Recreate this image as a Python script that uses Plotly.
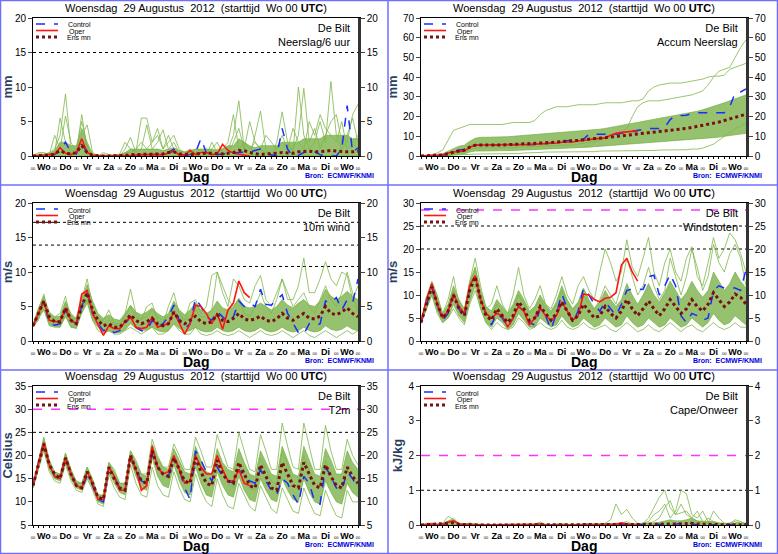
import plotly.graph_objects as go

days = ["Wo", "Do", "Vr", "Za", "Zo", "Ma", "Di", "Wo", "Do", "Vr", "Za", "Zo", "Ma", "Di", "Wo"]
title_txt = "Woensdag  29 Augustus  2012  (starttijd  Wo 00 <b>UTC</b>)"
t = [i / 4 for i in range(61)]

# ---------------- Neerslag/6 uur ----------------
p_mean = [0,0.1,0.1,0.1, 0.3,0.8,0.4,0.3, 0.5,1.5,0.5,0.1, 0,0,0,0, 0,0.1,0.2,0.2, 0.3,0.3,0.3,0.3, 0.3,0.5,0.6,0.3, 0.2,0.2,0.3,0.4, 0.4,0.4,0.3,0.3, 0.4,0.5,0.8,0.8, 0.5,0.3,0.2,0.3, 0.3,0.4,0.5,0.4, 0.4,0.6,0.7,0.7, 0.6,0.6,0.7,0.8, 0.7,0.7,0.6,0.6, 0.7]
p_ctrl = [0,0,0.1,0.1, 0.2,0.8,2.0,0.5, 0.3,2.0,0.3,0, 0,0,0,0, 0,0,0,0.1, 0.1,0.2,0.2,0.2, 0.2,0.5,1.0,0.3, 0.1,0.2,0.5,2.5, 0.5,0.3,0.2,0.3, 0.3,0.4,0.5,0.5, 0.6,0.8,1.0,0.3, 0.1,0.0,4.0,1.0, 0,0.1,0.5,0.8, 0.6,0.2,0,0, 0,1.0,7.3,0.5, 1.2]
p_oper = [0,0,0.1,0.2, 0.3,1.2,0.4,0.2, 0.5,2.5,0.5,0.1, 0,0,0,0, 0,0.1,0.1,0.1, 0.2,0.2,0.2,0.2, 0.2,0.4,0.7,0.2, 0.1,0.8,0.2,0.5, 0.5,0.2,0.3,1.7, 0.8,0.4,0.3,0.1, 0]
p_lo = [0] * 61
p_hi = [0,0.3,0.3,0.4, 0.8,2.0,2.0,1.5, 1.5,4.0,2.0,0.3, 0.1,0.1,0.1,0.1, 0.2,0.5,1.0,1.0, 1.0,1.0,1.0,1.0, 0.8,1.0,1.2,0.8, 0.6,0.8,1.0,1.0, 1.0,1.0,0.8,1.0, 1.5,1.5,2.5,2.0, 1.5,1.2,1.5,1.5, 1.5,1.5,2.0,2.0, 2.0,2.0,2.5,2.5, 2.5,2.5,3.0,3.0, 3.0,3.0,3.0,2.5, 2.5]
p_m1 = [0,0,0.2,0.5, 1,3,9,1, 0.5,6,1,0, 0,0,0,0, 0,1,2.7,0.5, 5.5,5.5,2,4, 1,3,1,0, 0,0.5,0.2,0, 0,2,0.5,0, 1,3,8,1, 0,3,6.5,1, 0,2,6.4,2, 0.5,10,3,1, 2,5,2,10.8, 3,1,2,6, 7.5]
p_m2 = [0,0,0.1,0.3, 0.5,5.5,2,0.5, 1,5,1.5,0, 0,0,0,0, 0.3,2,1,0.5, 1,4.5,1,2, 3.8,1,2,0.5, 0,0.5,0.5,1, 0.2,1,2,0.5, 0.3,2,4,1, 5,2,1,0.5, 0,1,3,1, 1,3,9.8,2, 4,1,3,5, 6,2,3,5.5, 2]
p_m3 = [0,0.5,0.5,0.2, 3,1,5.8,2, 0.5,3,4.5,0.5, 0,0.5,0.2,0, 0,0.5,0.5,1, 2,1,2,3, 1,2,3,1, 0.5,1,0.5,0.5, 1,0.5,1,1, 2,6,1,2, 1,2,1,3, 2,1,2,1, 4,2,1,5, 3,6,4,3, 2,5,1,2, 3]

# ---------------- Accum Neerslag ----------------
a_mean = [0,0.1,0.2,0.3, 0.5,1.2,2,2.5, 3,4.5,5.5,5.6, 5.6,5.6,5.6,5.6, 5.7,5.8,5.9,6.0, 6.1,6.3,6.5,6.7, 6.9,7.2,7.5,7.6, 7.8,8.0,8.2,8.5, 8.8,9.0,9.3,9.6, 9.9,10.2,10.5,10.8, 11.0,11.3,11.7,12.0, 12.3,12.6,12.9,13.2, 13.5,14,14.5,15, 15.5,16,16.5,17.2, 18,18.8,19.6,20.4, 21.2]
a_ctrl = [0,0,0,0.1, 0.3,1.0,2.5,3, 3.3,5,5.5,5.5, 5.5,5.5,5.5,5.5, 5.5,5.5,5.5,5.6, 5.7,5.8,6,6.2, 6.4,6.8,7.5,7.8, 7.9,8.1,8.5,11, 11,11,11,11, 11,11.5,12,12.5, 13,13.7,14,14, 14,14.5,18.5,20.5, 20.5,20.7,21.5,22, 22,22,22,22, 22,25,32,32.5, 34]
a_oper = [0,0,0.1,0.3, 0.6,1.5,2,2.3, 2.5,4.5,5.5,5.6, 5.6,5.6,5.6,5.6, 5.6,5.6,5.7,5.8, 5.9,6.0,6.1,6.2, 6.3,6.6,7.0,7.1, 7.1,7.6,7.8,8.2, 8.7,8.9,9.2,10.5, 11.5,12,12.3,12.5, 12.5]
a_lo = [0,0,0,0, 0.1,0.3,0.5,0.8, 1,2,2.5,2.5, 2.5,2.5,2.6,2.6, 2.7,2.8,2.9,3, 3.1,3.2,3.3,3.4, 3.5,3.6,3.8,3.9, 4,4.1,4.3,4.5, 4.7,4.9,5,5.2, 5.4,5.6,5.8,6, 6.2,6.4,6.6,6.8, 7,7.2,7.4,7.6, 7.8,8,8.2,8.5, 8.8,9,9.3,9.6, 10,10.3,10.6,11, 11.5]
a_hi = [0,0.2,0.5,0.8, 1.2,2.5,4,5, 5.5,7.5,9,9.5, 9.5,9.5,9.6,9.7, 9.8,10,10.2,10.4, 10.6,10.8,11,11.2, 11.4,11.7,12,12.2, 12.4,12.6,12.8,13, 13.3,13.6,14,14.5, 15,15.5,16,16.5, 17,17.5,18,18.5, 19,19.5,20,20.5, 21,21.5,22,22.7, 23.4,24.2,25,26, 27,28,29,30, 31]
a_m1 = [0,0.3,0.8,1.5, 3,8,13,14, 15,16,16,16, 16,16,16,16, 16.5,17,17,17, 17,18,21,23, 24,25,25,25, 25.5,26,26,26, 26,26.5,27,27, 27,27,27.5,28, 28,29,33,35, 36,36.5,37,37, 37,37.5,38,38.5, 39,40,40.5,40.5, 41,44,45,46, 47]
a_m2 = [0,0,0,0.1, 0.3,0.5,1,1.5, 2,3,4,4, 4,4,4,4, 4,4.2,4.5,4.5, 4.5,4.8,5,5, 5,5.2,5.5,5.5, 5.5,6,6.5,7, 7,8,9,10, 11,12,14,20, 25,27,28,28, 28,28.5,29,29.5, 30,30.5,31,32, 33,36,40,43, 44,45,50,55, 59]
a_m3 = [0,0,0,0, 0,0.2,0.5,0.5, 0.5,0.8,1,1, 1,1,1,1, 1,1,1.2,1.5, 1.5,1.5,1.8,2, 2,2,2,2, 2,2,2,2.2, 2.2,2.5,2.5,2.5, 2.5,2.5,2.5,2.5, 2.5,2.5,2.6,2.8, 3,3,3,3, 3,3.2,3.5,3.5, 4,5,6,8, 10,12,14,15, 17]

# ---------------- 10m wind ----------------
w_mean = [2.2,4.0,5.8,3.5, 2.8,2.8,4.8,3.0, 2.5,5.0,7.0,4.5, 3.0,2.2,2.5,2.0, 2.0,2.8,3.8,3.0, 2.5,2.8,3.3,2.5, 2.2,2.5,4.2,3.0, 2.5,3.0,3.6,2.8, 2.5,2.8,3.8,3.0, 2.8,3.3,4.0,3.2, 3.0,3.2,3.6,3.0, 2.8,3.2,4.0,3.3, 3.0,3.5,4.0,3.3, 3.2,3.6,5.0,4.0, 3.8,4.2,4.8,4.0, 3.5]
w_ctrl = [2.2,4,5.8,2.5, 2.3,2.5,4.5,3, 2.5,5,7,4, 2.5,1.5,1.8,1.2, 1.5,2.5,3.5,2.0, 1.5,1.5,3,2, 2.5,3.5,5.2,3, 1.8,2.5,6.2,5, 3.5,3,4.3,3.5, 2.8,3.5,5.8,5, 5.5,5,7.5,5.3, 5.2,6,6.7,4, 2.5,1.2,1,2.5, 2.2,2.5,5.8,5.5, 6.3,4.5,6,5.5, 9]
w_oper = [2.2,4,5.8,3, 2.8,2.8,4.8,3, 2.5,6.8,7.3,4, 2.5,0.8,2.2,1.8, 1.8,2.8,3.5,2, 1.8,2,3.5,2, 2.3,2.5,4.2,2.5, 1.0,2.5,5.2,5, 4,2.5,4,1.7, 4.5,5.5,8.7,7, 6.3]
w_lo = [2,3.2,4.5,2.2, 2,2,3.5,2, 1.8,4,5.5,3, 2,1.2,1.5,1.2, 1.2,1.6,2.5,1.8, 1.5,1.6,2,1.5, 1.3,1.5,2.5,1.8, 1.3,1.5,2,1.5, 1.3,1.4,2,1.5, 1.3,1.5,2,1.5, 1.3,1.5,2,1.5, 1.3,1.5,2,1.5, 1.3,1.5,2,1.5, 1.3,1.5,2.2,1.7, 1.5,1.7,2.2,1.7, 1.5]
w_hi = [2.4,4.8,6.5,4.2, 3.5,3.6,5.8,4, 3.2,6,8.2,5.8, 4,3.3,3.8,3.2, 3,4,5.2,4.2, 3.8,4.2,4.8,4, 3.5,4,5.8,4.5, 3.8,4.5,5.5,4.5, 4,4.5,5.8,4.8, 4.5,5,6.2,5, 4.8,5,5.5,5, 4.5,5,6,5.2, 4.8,5.5,6,5.2, 5,5.8,7.5,6.5, 6,6.5,7.2,6.5, 6]
w_m1 = [2.3,4.5,6.8,3, 3.5,4,6.5,3, 3.5,6,9,5, 3,3,4.5,2.5, 2,4,7.5,4, 3,5,5.5,3, 2.5,5,7,4, 3,5.5,6,4, 5,9.5,10,7, 5,9,8,6, 5.5,8,9.5,6, 5,7,9,6, 6,8,12,7, 7,9,11.5,9, 8,10,9.5,6, 8]
w_m2 = [2,3,5.5,2.5, 2.5,2,4,2, 2,4.5,6,3, 1.5,1,1.5,1, 1,1.5,2,1.5, 1,1.5,2,1, 1,1.5,2.5,1.5, 1,1,2,1, 0.8,1,1.5,1, 0.8,1,1.5,1, 0.5,1,1.5,1, 0.8,1,1.5,1, 0.5,1,1.5,0.8, 0.5,1,1.5,1, 0.5,1,1.5,1, 1.5]
w_m3 = [2.2,4.2,6,3.8, 3,3,5.5,3.5, 2.8,5.5,7.5,4.5, 3.5,2.5,3,2.5, 2.5,3.5,5,3.5, 3.2,3.5,4.5,3.5, 3,3.5,4.5,3.5, 3,3.5,4.5,3.5, 3.5,4.5,10,8, 6,5,6,4, 3.5,5,7,5, 4,6,9,7, 5,6,7,5, 4,6,8,6, 5,7,10,7, 4]

# ---------------- Windstoten ----------------
g_mean = [4,8,11.8,8, 5,6.5,10,7, 5.5,11,14,9, 5.5,4.5,7,5.5, 4,5.5,8.5,7, 4.5,5,7.5,6, 4.5,6,8.5,6.5, 4.5,5.5,8,6.5, 5,5.5,7.5,6, 5,6.5,9,7, 5.5,7,8.7,7, 5.5,7,9,7.5, 6,7,9,7.5, 6.5,8,10.5,9, 7.5,8.5,10.2,9.5, 8]
g_ctrl = [4,8,11.5,8, 4.5,6,10,7, 5,11.5,14,9, 6,3.5,6,5, 3,5,7.5,6.5, 4,3.5,7,5.5, 2.5,6,10.3,7, 4,6.5,11.5,10, 8,6.5,8.5,7, 5.5,8,11,11.3, 11.2,11.2,14,14.3, 10,12,14.5,12, 5.5,4,6,5.5, 4.5,5,11,12, 11.5,11.5,11.5,11, 15.5]
g_oper = [4,9,12.5,8, 5,6.5,10.3,7.5, 6,12,14.2,9, 6,5,6,5.5, 3,5,7.5,6.5, 3.5,5,7.2,5.5, 4.5,5.5,8.5,6.5, 4.5,5.5,10.2,10, 9,8.5,9.3,9.5, 10.5,16.5,18,15, 13]
g_lo = [3.8,7,10,6.5, 4,5,8,5.5, 4,8.5,12,7, 4,3,5,4, 2.5,3.5,6,4.5, 3,3,5,4, 3,3.5,5.5,4, 3,3.5,5,4, 3,3.5,5,4, 3,3.5,5.5,4, 3,3.5,5,4, 3,3.5,5,4, 3,3.5,5,4, 3,4,6,4.5, 3.5,4,5.5,4.5, 3.5]
g_hi = [4.2,9.5,13,10, 6,8,12,9, 7,13,16,11, 7.5,6.5,9,7.5, 6,8,11,9, 6.5,7.5,10,8, 6.5,8.5,12,9, 7,8.5,11.5,9, 7,8.5,11,9, 7.5,9,12.5,10, 8,10,12.5,10, 8.5,10.5,13,11, 9,10.5,13,11, 9.5,11,15,13, 11,12.5,15,13, 11.5]
g_m1 = [4,9.5,12,9, 6,9,14,8, 6,13,18,12, 7,8,12,8, 6,10,16,10, 7,9,12,8, 7,10,14,10, 8,12,14,11, 9,15,20,17, 13,15,22,16, 14,18,22.5,15, 12,17,20,15, 13,18,20.5,14, 12,17,22.5,18, 20,23.5,22,19, 15]
g_m2 = [4,7,10,6, 4,5,7,5, 3.5,8,11,7, 4,2.5,4,3, 2.5,3,5,4, 2.5,3,4,3, 2.5,3,4.5,3, 2.5,3,4,3, 2.5,3,3.5,2.5, 2,3,4,3, 2,2.5,3.5,2.5, 2,3,4,3, 2,3,3.5,2.5, 2,3,4,3, 2.5,3,4,3, 3]
g_m3 = [4,8.5,12,8, 5,7,11,7, 5,12,16,10, 6,5,8,6, 5,7,10,8, 6,7,9,7, 6,8,11,8, 7,8,10,8, 7,9,12,10, 8,12,18,14, 10,12,16,12, 9,11,18,14, 10,14,20,16, 11,14,21,17, 15,19,21,18, 12]

# ---------------- T2m ----------------
T_mean = [13.5,18,22.5,18, 16,15,19.5,16, 13.5,13,16.5,14, 11,10.5,17.5,15, 13,12.5,20,17, 14.5,14,21,17.5, 16,15.5,19.5,17, 14.5,14,19.5,16.5, 14,13.5,19,16, 14.5,14,18.5,16, 13.5,13,18,15.5, 13,12.5,18.5,16, 13.5,13,18.5,16, 13.5,13,18,15.5, 13.5,13,17.5,15.5, 14]
T_ctrl = [13.5,18.5,22.5,18, 15.5,15,19.5,16, 13.5,13,15.5,13.5, 10.5,10,17.5,15.5, 13,12.5,20,17, 14.5,14,20.5,17.5, 16,15.5,19.5,17, 13,10.5,21,19, 16.5,14.5,17.5,15.5, 14.5,14,17,15.5, 14.5,14,17,14.5, 12.5,11.5,15,14, 11.5,9.5,15.5,14, 10,9.5,17.5,15.5, 13,12.5,16.5,15, 13]
T_oper = [13.5,18.5,22.8,18, 15.5,15,19.5,16, 13.5,13,16.5,14, 10.5,10.5,17.5,15.5, 12.5,12.5,20,17, 12.5,13.5,22,17.5, 16,16.5,20,17, 14,14.5,20,17.5, 16,16,20,17, 14.5,14.5,17,14, 13.5]
T_lo = [13,17.5,21.5,17, 15,14.5,18.5,15, 13,12.5,15.5,13, 10,9.5,16.5,14, 12,11.5,19,15.5, 13,12.5,19.5,15.5, 13.5,13,18,14.5, 12,11.5,17.5,14, 11.5,11,16.5,13.5, 11.5,11,15.5,12.5, 10.5,10,15,12.5, 10.5,10,15,12.5, 10.5,10,15,12, 10,9.5,14.5,12, 10,9.5,14,12, 11]
T_hi = [14,19,23.5,19, 16.5,16,20.5,17, 14.5,14,17.5,15, 11.5,11.5,18.5,16.5, 14,14,21,18.5, 16,15.5,22.5,19.5, 17.5,17,21.5,19, 16.5,16,22,19, 16.5,16,21.5,18.5, 17,16.5,21.5,18.5, 16,15.5,21,18.5, 16,15.5,22,19, 16,15.5,22,19, 16,15.5,21.5,19, 16,16,21,18.5, 17]
T_m1 = [13.5,19,24,19, 16,15.5,20.5,17, 14,14,17.5,14.5, 11,11.5,18.5,17, 14,14,21,19, 16,16,23.5,20, 17.5,17.5,22.5,20, 17,17,24,21, 17.5,17.5,24.5,21, 17.5,17,25,21, 17,16.5,24.5,21, 17,17,27,22, 17.5,17,27,22, 17,17,26.5,21, 17,17,23.5,20, 18]
T_m2 = [13,17,21,16.5, 14.5,14,18,14.5, 12.5,12,15,12.5, 9.5,9,16,13, 11,10.5,18,14, 11.5,11,17.5,13.5, 11.5,11,16.5,13, 10.5,10,16,12.5, 10,9,15,11.5, 9,8.5,14,11.5, 9,8,13.5,11, 8.5,7.5,13,10.5, 8,7.5,13,10, 7.5,7,12.5,9.5, 7,6.5,12.5,10, 10]
T_m3 = [13.5,18,22.5,18, 15,15,19.5,16.5, 13.5,13,16.5,14, 10.5,10.5,17.5,15.5, 13,12.5,19.5,16.5, 14.5,14,21,17.5, 15.5,15,20,17.5, 14.5,14,20.5,17.5, 14,13.5,20,17, 14,13,18.5,16, 13,12.5,19.5,17, 14.5,13.5,21,18, 14,13,20,16.5, 14,13.5,19,16, 13,12.5,17,15, 13.5]

# ---------------- Cape/Onweer ----------------
c_mean = [0,0.01,0.02,0.01, 0.02,0.04,0.06,0.02, 0.01,0.01,0.01,0, 0,0,0,0, 0,0,0,0, 0,0.01,0.01,0, 0,0,0.01,0, 0,0,0.01,0, 0,0,0.01,0.01, 0.01,0.02,0.02,0.01, 0.01,0.01,0.01,0.01, 0.02,0.03,0.04,0.03, 0.03,0.04,0.05,0.03, 0.02,0.02,0.02,0.01, 0.01,0.01,0.01,0.01, 0.01]
c_ctrl = [0,0,0.01,0, 0.01,0.02,0.03,0.01, 0,0,0,0, 0,0,0,0, 0,0,0,0, 0,0,0,0, 0,0.01,0.02,0, 0,0,0,0, 0,0,0,0, 0,0,0,0, 0.01,0.01,0,0, 0,0.02,0.03,0.02, 0.05,0.1,0.03,0.01, 0,0,0,0, 0,0,0.01,0.01, 0.02]
c_oper = [0,0.01,0.03,0.01, 0.02,0.08,0.12,0.03, 0.01,0.01,0,0, 0,0,0,0, 0,0,0,0, 0,0.02,0.03,0, 0,0,0.01,0, 0,0,0,0, 0,0,0,0, 0.02,0.06,0.03,0, 0]
c_lo = [0] * 61
c_hi = [0,0.03,0.05,0.03, 0.05,0.12,0.15,0.05, 0.03,0.04,0.03,0.01, 0.01,0.01,0.01,0.01, 0.01,0.01,0.02,0.02, 0.02,0.03,0.05,0.02, 0.02,0.03,0.04,0.02, 0.02,0.03,0.04,0.03, 0.03,0.03,0.04,0.04, 0.05,0.06,0.05,0.04, 0.04,0.05,0.06,0.06, 0.08,0.12,0.15,0.12, 0.12,0.15,0.2,0.12, 0.1,0.1,0.1,0.06, 0.05,0.05,0.06,0.05, 0.05]
c_m1 = [0,0.05,0.05,0.02, 0.05,0.25,0.15,0.05, 0.02,0.06,0.02,0, 0,0,0,0, 0,0,0,0, 0,0.03,0.08,0.02, 0,0,0.02,0, 0,0,0.02,0, 0,0,0.05,0.15, 0.6,0.3,0.45,0.2, 0.05,0.02,0.05,0.1, 0.2,0.5,0.7,0.3, 0.35,0.4,0.2,0.1, 0.05,0.2,0.1,0.05, 0,0.05,0.1,0.05, 0.05]
c_m2 = [0,0,0.02,0, 0.02,0.1,0.2,0.03, 0,0,0,0, 0,0,0,0, 0,0,0,0, 0,0,0.02,0, 0,0,0,0, 0,0,0,0, 0,0,0,0, 0,0.05,0.1,0.02, 0,0.05,0.2,0.5, 0.8,1.0,0.5,0.3, 0.6,0.3,0.2,0.4, 0.1,0.05,0.4,0.2, 0.05,0,0.05,0.1, 0.02]
c_m3 = [0,0,0,0, 0,0.05,0.1,0.02, 0,0,0,0, 0,0,0,0, 0,0,0,0, 0,0,0,0, 0,0,0,0, 0,0,0,0, 0,0,0,0, 0,0.02,0.02,0, 0,0.05,0.1,0.3, 0.4,0.6,0.2,0.4, 1.0,0.9,0.3,0.2, 0.4,0.1,0.05,0.05, 0.02,0.05,0.15,0.1, 0.02]

panels = [
    dict(name="Neerslag/6 uur", ylab="mm", rng=(0, 20), dt=5, mean=p_mean, ctrl=p_ctrl, oper=p_oper, lo=p_lo, hi=p_hi, mem=[p_m1, p_m2, p_m3], dots=[15], mag=[]),
    dict(name="Accum Neerslag", ylab="mm", rng=(0, 70), dt=10, mean=a_mean, ctrl=a_ctrl, oper=a_oper, lo=a_lo, hi=a_hi, mem=[a_m1, a_m2, a_m3], dots=[], mag=[]),
    dict(name="10m wind", ylab="m/s", rng=(0, 20), dt=5, mean=w_mean, ctrl=w_ctrl, oper=w_oper, lo=w_lo, hi=w_hi, mem=[w_m1, w_m2, w_m3], dots=[10.8, 13.9, 17.2], mag=[]),
    dict(name="Windstoten", ylab="m/s", rng=(0, 30), dt=5, mean=g_mean, ctrl=g_ctrl, oper=g_oper, lo=g_lo, hi=g_hi, mem=[g_m1, g_m2, g_m3], dots=[20, 25], mag=[28.5]),
    dict(name="T2m", ylab="Celsius", rng=(5, 35), dt=5, mean=T_mean, ctrl=T_ctrl, oper=T_oper, lo=T_lo, hi=T_hi, mem=[T_m1, T_m2, T_m3], dots=[25], mag=[30]),
    dict(name="Cape/Onweer", ylab="kJ/kg", rng=(0, 4), dt=1, mean=c_mean, ctrl=c_ctrl, oper=c_oper, lo=c_lo, hi=c_hi, mem=[c_m1, c_m2, c_m3], dots=[1], mag=[2]),
]

W, H = 778, 554
cols = [(33, 358), (421, 746)]
rows = [(18, 156), (203, 341), (386, 525)]
GREEN = "#6aa832"
fig = go.Figure()
shapes, annos = [], []
layout = {}
FONT = "Liberation Sans, Arial"

tickvals = list(range(16)) + [d + 0.5 for d in range(15)]
ticktext = ["<span style='font-size:4px'>00</span>"] * 16 + ["<b>%s</b>" % d for d in days]

for i, p in enumerate(panels):
    r, c = divmod(i, 2)
    x0, x1 = cols[c]
    y0, y1 = rows[r]
    n = i + 1
    xa, ya, yr = "x%d" % n, "y%d" % n, "y%d" % (n + 6)
    xk, yk, yrk = "xaxis%d" % n, "yaxis%d" % n, "yaxis%d" % (n + 6)
    dom_x = [x0 / W, x1 / W]
    dom_y = [1 - y1 / H, 1 - y0 / H]
    layout[xk] = dict(domain=dom_x, anchor=ya, range=[0, 15], tickvals=tickvals, ticktext=ticktext,
                      ticks="outside", ticklen=2, tickcolor="black", showgrid=False, zeroline=False,
                      showline=True, linecolor="black", linewidth=1, mirror=True, automargin=False,
                      tickfont=dict(size=9, family=FONT, color="black"),
                      minor=dict(dtick=0.25, ticks="outside", ticklen=2, tickcolor="black"))
    layout[yk] = dict(domain=dom_y, anchor=xa, range=list(p["rng"]), dtick=p["dt"], ticks="outside",
                      ticklen=4, showgrid=False, zeroline=False, showline=True, linecolor="black", automargin=False,
                      tickfont=dict(size=10, family=FONT, color="black"),
                      title=dict(text="<b>%s</b>" % p["ylab"], font=dict(size=13, family=FONT), standoff=2))
    layout[yrk] = dict(overlaying=ya, anchor=xa, side="right", range=list(p["rng"]), dtick=p["dt"], automargin=False,
                       ticks="outside", ticklen=4, showgrid=False, zeroline=False, showline=True,
                       linecolor="#333", linewidth=2.5, tickfont=dict(size=10, family=FONT, color="black"))

    fig.add_trace(go.Scatter(x=t, y=p["lo"], mode="lines", line=dict(width=0.6, color=GREEN), xaxis=xa, yaxis=ya, showlegend=False))
    fig.add_trace(go.Scatter(x=t, y=p["hi"], mode="lines", line=dict(width=0.6, color=GREEN), fill="tonexty",
                             fillcolor="rgba(106,168,50,0.7)", xaxis=xa, yaxis=ya, showlegend=False))
    for m in p["mem"]:
        fig.add_trace(go.Scatter(x=t, y=m, mode="lines", line=dict(width=0.8, color="#7fb64a"), xaxis=xa, yaxis=ya, showlegend=False))
    fig.add_trace(go.Scatter(x=t, y=p["ctrl"], mode="lines", line=dict(width=1.5, color="#1a2cff", dash="dash"), xaxis=xa, yaxis=ya, showlegend=False))
    fig.add_trace(go.Scatter(x=t[:len(p["oper"])], y=p["oper"], mode="lines", line=dict(width=1.6, color="#ff1414"), xaxis=xa, yaxis=ya, showlegend=False))
    fig.add_trace(go.Scatter(x=t, y=p["mean"], mode="lines", line=dict(width=3, color="#7a1010", dash="dot"), xaxis=xa, yaxis=ya, showlegend=False))
    fig.add_trace(go.Scatter(x=[0], y=[p["rng"][0]], mode="markers", marker=dict(opacity=0), xaxis=xa, yaxis=yr, showlegend=False, hoverinfo="skip"))

    for v in p["dots"]:
        shapes.append(dict(type="line", xref=xa, yref=ya, x0=0, x1=15, y0=v, y1=v, line=dict(color="black", width=1, dash="dot"), layer="below"))
    for v in p["mag"]:
        shapes.append(dict(type="line", xref=xa, yref=ya, x0=0, x1=15, y0=v, y1=v, line=dict(color="#ff33ff", width=1.5, dash="dash"), layer="below"))

    annos.append(dict(text=title_txt, xref="paper", yref="paper", x=(x0 + x1) / 2 / W, y=1 - (y0 - 10) / H,
                      showarrow=False, font=dict(size=11, family=FONT, color="black"), xanchor="center", yanchor="middle"))
    annos.append(dict(text="De Bilt<br>%s" % p["name"], xref="paper", yref="paper", x=(x1 - 6) / W, y=1 - (y0 + 2) / H,
                      showarrow=False, align="right", font=dict(size=11, family=FONT, color="black"), xanchor="right", yanchor="top"))
    annos.append(dict(text="<b>Dag</b>", xref="paper", yref="paper", x=(x0 + x1) / 2 / W, y=1 - (y1 + 21) / H,
                      showarrow=False, font=dict(size=14, family=FONT, color="black"), xanchor="center", yanchor="middle"))
    annos.append(dict(text="<b>Bron:  ECMWF/KNMI</b>", xref="paper", yref="paper", x=(x1 + 18) / W, y=1 - (y1 + 19) / H,
                      showarrow=False, font=dict(size=7, family=FONT, color="#0000dd"), xanchor="right", yanchor="middle"))
    lx, ly = x0 + 3, y0 + 6
    for k, (lab, col, dash, wd) in enumerate([("Control", "#1a2cff", "dash", 1.5), ("Oper", "#ff1414", "solid", 1.6), ("Ens mn", "#7a1010", "dot", 3)]):
        yy = ly + k * 6.5
        shapes.append(dict(type="line", xref="paper", yref="paper", x0=lx / W, x1=(lx + 22) / W, y0=1 - yy / H, y1=1 - yy / H,
                           line=dict(color=col, width=wd, dash=dash)))
        annos.append(dict(text=lab, xref="paper", yref="paper", x=(lx + 57 - (6 if k == 1 else 0)) / W, y=1 - (yy + 1) / H,
                          showarrow=False, font=dict(size=7, family=FONT, color="black"), xanchor="right", yanchor="middle"))

B = "#6f6fff"
shapes.append(dict(type="rect", xref="paper", yref="paper", x0=0.5 / W, x1=1 - 0.5 / W, y0=0.5 / H, y1=1 - 0.5 / H, line=dict(color=B, width=1.5)))
shapes.append(dict(type="line", xref="paper", yref="paper", x0=388 / W, x1=388 / W, y0=0, y1=1, line=dict(color=B, width=1.5)))
for yy in (185, 370):
    shapes.append(dict(type="line", xref="paper", yref="paper", x0=0, x1=1, y0=1 - yy / H, y1=1 - yy / H, line=dict(color=B, width=1.5)))

fig.update_layout(width=W, height=H, margin=dict(l=0, r=0, t=0, b=0), paper_bgcolor="white", plot_bgcolor="white",
                  shapes=shapes, annotations=annos, showlegend=False, font=dict(family=FONT), **layout)
fig.write_html("out.html", config={"displayModeBar": False})

with open("out.html", encoding="utf-8") as f:
    html = f.read()
html = html.replace("<head>", "<head><style>html,body{margin:0;padding:0;overflow:hidden}</style>", 1)
with open("out.html", "w", encoding="utf-8") as f:
    f.write(html)
